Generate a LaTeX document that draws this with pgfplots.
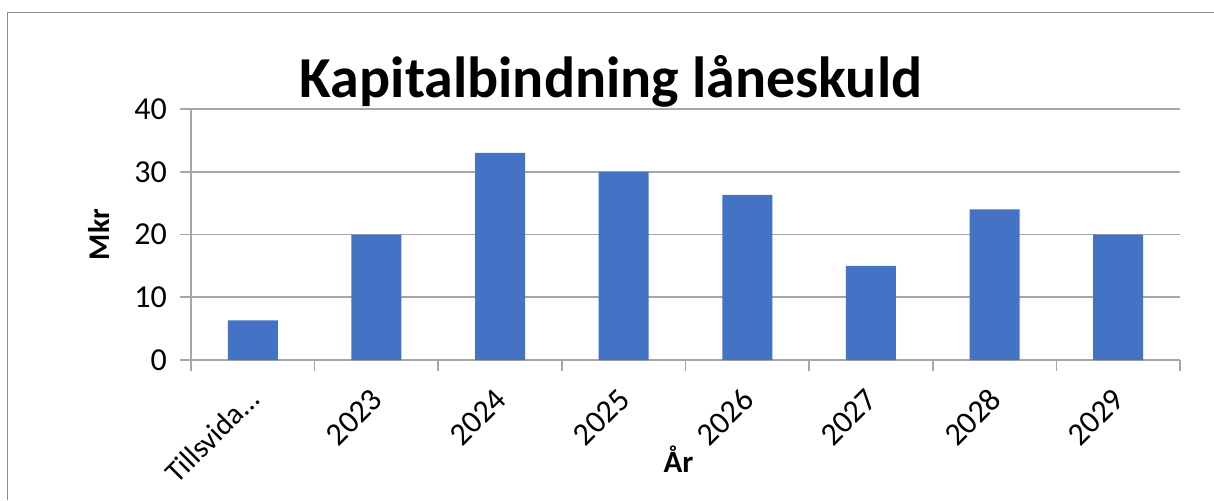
\documentclass[border=0pt]{standalone}
\usepackage{pgfplots}
\pgfplotsset{compat=1.18}
\usepackage{fontspec}
\setmainfont{Carlito}
\definecolor{barblue}{HTML}{4472C4}
\definecolor{gridgray}{HTML}{A6A6A6}
\definecolor{framegray}{HTML}{8C8C8C}
\begin{document}
\begin{tikzpicture}
\useasboundingbox (0,0) rectangle (607pt,250pt);
\fill[white] (0,0) rectangle (607pt,250pt);
\draw[framegray, line width=0.7pt] (3.75pt,0) -- (3.75pt,243.75pt) -- (607pt,243.75pt);
\node[font=\bfseries\fontsize{29}{32}\selectfont, anchor=base] at (305.5pt,201.5pt) {Kapitalbindning låneskuld};
\begin{axis}[
  at={(95.5pt,70pt)}, anchor=south west,
  scale only axis, width=494.5pt, height=125.5pt,
  xmin=-0.5, xmax=7.5, ymin=0, ymax=40,
  axis x line*=bottom, axis y line*=left,
  axis line style={gridgray, line width=0.8pt, -},
  ytick={0,10,20,30,40},
  ymajorgrids, grid style={gridgray, line width=0.8pt},
  xtick={-0.5,0.5,...,7.5},
  xticklabels={},
  extra x ticks={0,1,2,3,4,5,6,7},
  extra x tick labels={{\fontsize{15}{17}\selectfont Tillsvida…}\hspace{-8pt},2023,2024,2025,2026,2027,2028,2029},
  extra x tick style={major tick length=0pt, grid=none,
    tick label style={xshift=0.5pt, yshift=-17pt, rotate=45, anchor=east, inner sep=0pt, font=\fontsize{16}{18}\selectfont}},
  tick align=outside,
  major tick length=5.5pt,
  tick style={gridgray, line width=0.8pt},
  yticklabel style={font=\fontsize{16}{18}\selectfont, xshift=-3pt},
  /pgf/number format/assume math mode=true,
  ylabel={Mkr},
  ylabel style={at={(axis description cs:-0.093,0.5)}, anchor=center, font=\bfseries\fontsize{15}{17}\selectfont},
  xlabel={År},
  xlabel style={at={(axis description cs:0.493,-0.394)}, anchor=center, font=\bfseries\fontsize{15.5}{17}\selectfont},
]
\addplot[ybar, bar width=25pt, fill=barblue, draw=none] coordinates {
  (0,6.3) (1,20) (2,33) (3,30) (4,26.3) (5,15) (6,24) (7,20)
};
\end{axis}
\end{tikzpicture}
\end{document}
